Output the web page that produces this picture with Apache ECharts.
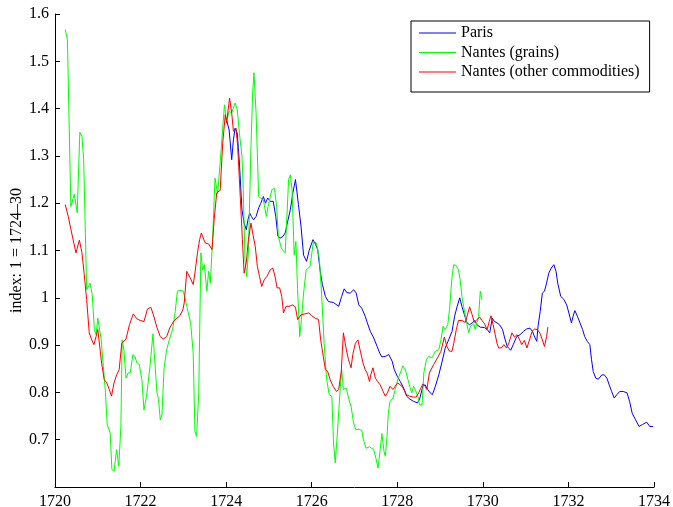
<!DOCTYPE html>
<html>
<head>
<meta charset="utf-8">
<script src="https://cdn.jsdelivr.net/npm/echarts@6/dist/echarts.min.js"></script>
<style>
html,body{margin:0;padding:0;background:#fff;}
#chart{width:673px;height:507px;}
</style>
</head>
<body>
<div id="chart"></div>
<script>
// ---- Data ----
const seriesNames = ['Paris', 'Nantes (grains)', 'Nantes (other commodities)'];
const xTicks = [1720, 1722, 1724, 1726, 1728, 1730, 1732, 1734];
const yTicks = [0.7, 0.8, 0.9, 1, 1.1, 1.2, 1.3, 1.4, 1.5, 1.6];

const parisYears = [1724.00,1724.07,1724.13,1724.17,1724.21,1724.26,1724.31,1724.37,1724.42,1724.47,1724.51,1724.55,1724.59,1724.64,1724.70,1724.76,1724.81,1724.87,1724.92,1724.97,1725.03,1725.10,1725.16,1725.21,1725.26,1725.33,1725.38,1725.43,1725.50,1725.56,1725.62,1725.69,1725.75,1725.81,1725.88,1725.94,1726.03,1726.09,1726.14,1726.20,1726.25,1726.32,1726.39,1726.51,1726.63,1726.70,1726.76,1726.82,1726.90,1726.98,1727.04,1727.10,1727.17,1727.25,1727.30,1727.37,1727.45,1727.53,1727.59,1727.64,1727.72,1727.80,1727.88,1727.93,1728.00,1728.07,1728.15,1728.22,1728.29,1728.38,1728.47,1728.52,1728.60,1728.65,1728.71,1728.77,1728.82,1728.89,1728.97,1729.05,1729.12,1729.20,1729.28,1729.34,1729.40,1729.46,1729.51,1729.57,1729.63,1729.69,1729.75,1729.81,1729.86,1729.94,1730.04,1730.10,1730.16,1730.22,1730.27,1730.33,1730.39,1730.46,1730.51,1730.57,1730.65,1730.71,1730.79,1730.87,1730.95,1731.02,1731.10,1731.16,1731.21,1731.26,1731.29,1731.34,1731.39,1731.44,1731.49,1731.54,1731.60,1731.66,1731.71,1731.75,1731.82,1731.89,1731.96,1732.01,1732.07,1732.11,1732.15,1732.21,1732.27,1732.33,1732.38,1732.44,1732.50,1732.54,1732.58,1732.64,1732.70,1732.78,1732.84,1732.90,1732.96,1733.01,1733.07,1733.13,1733.20,1733.28,1733.37,1733.43,1733.49,1733.57,1733.65,1733.73,1733.83,1733.90,1733.98];
const parisValues = [1.380,1.355,1.292,1.334,1.359,1.348,1.285,1.186,1.158,1.144,1.165,1.179,1.172,1.165,1.172,1.190,1.200,1.214,1.200,1.211,1.204,1.204,1.172,1.130,1.126,1.130,1.137,1.158,1.186,1.222,1.250,1.197,1.151,1.090,1.077,1.100,1.123,1.113,1.102,1.055,1.028,1.003,0.992,0.990,0.982,1.003,1.019,1.011,1.010,1.017,1.010,0.985,0.978,0.961,0.947,0.929,0.915,0.897,0.883,0.875,0.876,0.880,0.866,0.848,0.834,0.823,0.809,0.792,0.786,0.781,0.778,0.785,0.814,0.816,0.806,0.799,0.795,0.813,0.837,0.866,0.894,0.911,0.929,0.961,0.982,1.000,0.982,0.964,0.947,0.943,0.947,0.952,0.943,0.938,0.937,0.933,0.926,0.957,0.950,0.947,0.943,0.933,0.915,0.897,0.889,0.901,0.918,0.922,0.929,0.934,0.936,0.929,0.917,0.908,0.940,0.971,1.010,1.014,1.031,1.052,1.063,1.070,1.056,1.031,1.003,0.997,0.985,0.968,0.947,0.961,0.973,0.961,0.947,0.933,0.918,0.908,0.901,0.869,0.844,0.830,0.828,0.837,0.837,0.830,0.814,0.802,0.788,0.795,0.802,0.802,0.799,0.781,0.756,0.742,0.728,0.732,0.737,0.728,0.728];

const grainsYears = [1720.24,1720.29,1720.37,1720.45,1720.52,1720.58,1720.63,1720.67,1720.74,1720.82,1720.87,1720.92,1720.96,1721.00,1721.04,1721.08,1721.13,1721.18,1721.22,1721.29,1721.33,1721.38,1721.44,1721.49,1721.54,1721.57,1721.61,1721.66,1721.71,1721.76,1721.82,1721.87,1721.91,1721.97,1722.03,1722.08,1722.14,1722.22,1722.29,1722.32,1722.38,1722.42,1722.46,1722.50,1722.55,1722.61,1722.67,1722.75,1722.81,1722.86,1722.92,1723.00,1723.08,1723.17,1723.23,1723.27,1723.31,1723.36,1723.41,1723.45,1723.49,1723.55,1723.59,1723.63,1723.68,1723.74,1723.80,1723.86,1723.96,1724.01,1724.07,1724.13,1724.21,1724.26,1724.31,1724.37,1724.40,1724.44,1724.48,1724.52,1724.58,1724.62,1724.65,1724.70,1724.76,1724.81,1724.87,1724.94,1724.98,1725.07,1725.13,1725.18,1725.22,1725.29,1725.33,1725.38,1725.46,1725.50,1725.54,1725.59,1725.63,1725.67,1725.72,1725.76,1725.81,1725.87,1725.96,1726.04,1726.11,1726.18,1726.23,1726.29,1726.35,1726.41,1726.47,1726.51,1726.55,1726.60,1726.67,1726.70,1726.74,1726.81,1726.86,1726.92,1726.98,1727.03,1727.10,1727.17,1727.21,1727.27,1727.35,1727.45,1727.50,1727.55,1727.60,1727.64,1727.69,1727.72,1727.76,1727.79,1727.83,1727.90,1727.95,1728.01,1728.07,1728.13,1728.19,1728.24,1728.30,1728.34,1728.38,1728.42,1728.48,1728.52,1728.58,1728.62,1728.68,1728.73,1728.81,1728.89,1728.97,1729.02,1729.07,1729.12,1729.18,1729.22,1729.28,1729.32,1729.38,1729.43,1729.47,1729.51,1729.55,1729.59,1729.63,1729.67,1729.71,1729.75,1729.79,1729.82,1729.86,1729.90,1729.94,1729.98];
const grainsValues = [1.567,1.546,1.193,1.219,1.180,1.350,1.341,1.292,1.017,1.031,1.007,0.933,0.922,0.957,0.958,0.911,0.855,0.799,0.732,0.714,0.637,0.633,0.679,0.644,0.728,0.911,0.890,0.830,0.841,0.842,0.880,0.876,0.863,0.859,0.827,0.763,0.792,0.855,0.924,0.883,0.802,0.785,0.742,0.753,0.852,0.890,0.911,0.933,0.971,1.014,1.016,1.014,0.982,0.947,0.883,0.718,0.707,0.799,1.095,1.059,1.070,1.014,1.056,1.031,1.116,1.253,1.220,1.285,1.408,1.373,1.394,1.391,1.412,1.398,1.348,1.299,1.229,1.081,1.045,1.095,1.320,1.433,1.476,1.391,1.214,1.211,1.207,1.172,1.193,1.229,1.231,1.193,1.130,1.105,1.100,1.095,1.250,1.260,1.229,1.091,1.119,1.017,0.918,0.954,1.010,1.059,1.066,1.119,1.116,1.081,1.010,0.904,0.827,0.795,0.792,0.693,0.651,0.714,0.813,0.848,0.806,0.809,0.788,0.770,0.735,0.721,0.722,0.720,0.700,0.682,0.685,0.679,0.661,0.640,0.679,0.713,0.675,0.665,0.707,0.756,0.781,0.788,0.806,0.827,0.841,0.856,0.848,0.830,0.810,0.799,0.813,0.806,0.792,0.774,0.774,0.841,0.869,0.876,0.873,0.887,0.890,0.911,0.940,0.933,0.943,0.975,1.045,1.070,1.068,1.059,1.038,1.003,0.982,0.961,0.943,0.926,0.940,0.936,0.945,0.933,0.947,0.960,1.014,0.996];

const otherYears = [1720.24,1720.31,1720.39,1720.49,1720.57,1720.63,1720.68,1720.74,1720.80,1720.86,1720.91,1720.96,1721.00,1721.09,1721.15,1721.21,1721.27,1721.32,1721.38,1721.44,1721.50,1721.56,1721.66,1721.74,1721.83,1721.91,1721.99,1722.08,1722.16,1722.24,1722.30,1722.38,1722.46,1722.53,1722.61,1722.68,1722.77,1722.85,1722.92,1722.99,1723.02,1723.08,1723.16,1723.23,1723.27,1723.33,1723.38,1723.42,1723.51,1723.59,1723.67,1723.72,1723.78,1723.86,1723.92,1723.98,1724.01,1724.08,1724.13,1724.17,1724.23,1724.27,1724.33,1724.38,1724.42,1724.47,1724.52,1724.58,1724.62,1724.68,1724.73,1724.78,1724.83,1724.89,1724.95,1725.03,1725.09,1725.15,1725.19,1725.25,1725.30,1725.34,1725.40,1725.47,1725.56,1725.62,1725.67,1725.75,1725.84,1725.93,1726.00,1726.08,1726.16,1726.21,1726.27,1726.32,1726.37,1726.43,1726.50,1726.58,1726.63,1726.69,1726.74,1726.81,1726.86,1726.92,1726.96,1727.02,1727.08,1727.13,1727.20,1727.25,1727.30,1727.35,1727.38,1727.43,1727.49,1727.54,1727.60,1727.67,1727.72,1727.77,1727.83,1727.90,1727.95,1728.01,1728.05,1728.11,1728.16,1728.21,1728.29,1728.38,1728.44,1728.50,1728.55,1728.60,1728.65,1728.69,1728.75,1728.85,1728.94,1729.02,1729.10,1729.16,1729.22,1729.28,1729.32,1729.38,1729.43,1729.51,1729.59,1729.64,1729.69,1729.75,1729.80,1729.86,1729.93,1729.98,1730.04,1730.10,1730.15,1730.19,1730.24,1730.29,1730.33,1730.37,1730.43,1730.49,1730.55,1730.60,1730.68,1730.74,1730.80,1730.86,1730.91,1730.97,1731.03,1731.09,1731.15,1731.21,1731.27,1731.33,1731.39,1731.44,1731.49,1731.52];
const otherValues = [1.197,1.172,1.137,1.095,1.122,1.095,1.052,0.996,0.926,0.911,0.901,0.918,0.933,0.862,0.827,0.820,0.806,0.792,0.820,0.837,0.848,0.904,0.913,0.943,0.966,0.956,0.952,0.950,0.976,0.980,0.964,0.938,0.918,0.913,0.918,0.936,0.950,0.957,0.962,0.975,0.989,1.056,1.042,1.028,1.052,1.095,1.123,1.137,1.116,1.114,1.102,1.165,1.222,1.227,1.327,1.387,1.370,1.422,1.391,1.352,1.359,1.320,1.214,1.123,1.052,1.074,1.123,1.158,1.137,1.109,1.066,1.045,1.024,1.038,1.045,1.059,1.063,1.042,1.021,1.021,1.003,0.968,0.982,0.982,0.985,0.980,0.954,0.964,0.966,0.968,0.962,0.957,0.954,0.911,0.876,0.848,0.845,0.827,0.813,0.802,0.806,0.844,0.926,0.890,0.869,0.852,0.880,0.904,0.911,0.890,0.862,0.848,0.840,0.823,0.837,0.852,0.830,0.823,0.816,0.802,0.792,0.799,0.813,0.806,0.813,0.820,0.823,0.813,0.805,0.795,0.792,0.790,0.790,0.799,0.809,0.818,0.813,0.806,0.841,0.859,0.873,0.887,0.917,0.897,0.887,0.887,0.904,0.933,0.952,0.952,0.948,0.964,0.981,0.964,0.948,0.954,0.959,0.952,0.945,0.933,0.950,0.962,0.943,0.922,0.904,0.894,0.894,0.901,0.894,0.902,0.926,0.917,0.922,0.911,0.901,0.910,0.894,0.911,0.929,0.934,0.933,0.926,0.911,0.897,0.918,0.938];

// ---- Build chart ----
const FONT = '"Liberation Serif", "DejaVu Serif", serif';
function pairs(xs, ys) { return xs.map((x, i) => [x, ys[i]]); }
const colors = ['#0000ff', '#00ff00', '#ff0000'];
const seriesData = [pairs(parisYears, parisValues), pairs(grainsYears, grainsValues), pairs(otherYears, otherValues)];

const chart = echarts.init(document.getElementById('chart'), null, { renderer: 'canvas' });
chart.setOption({
  animation: false,
  backgroundColor: '#fff',
  grid: { left: 55, right: 19, top: 14, bottom: 20, containLabel: false, outerBoundsMode: 'none' },
  xAxis: {
    type: 'value', min: xTicks[0], max: xTicks[xTicks.length - 1], interval: 2,
    axisLine: { show: true, lineStyle: { color: '#000', width: 1 } },
    axisTick: { show: true, inside: true, length: 5, lineStyle: { color: '#000' } },
    axisLabel: { color: '#000', fontFamily: FONT, fontSize: 16, margin: 7, formatter: v => String(v) },
    splitLine: { show: false }
  },
  yAxis: {
    type: 'value', min: 0.6, max: yTicks[yTicks.length - 1], interval: 0.1,
    name: 'index: 1 = 1724\u201330', nameLocation: 'middle', nameGap: 30, nameRotate: 90,
    nameMoveOverlap: false,
    nameTextStyle: { color: '#000', fontFamily: FONT, fontSize: 16 },
    axisLine: { show: true, lineStyle: { color: '#000', width: 1 } },
    axisTick: { show: true, inside: true, length: 5, lineStyle: { color: '#000' } },
    axisLabel: {
      color: '#000', fontFamily: FONT, fontSize: 16, margin: 6,
      formatter: v => {
        const r = Math.round(v * 10) / 10;
        return yTicks.indexOf(r) >= 0 ? String(r) : '';
      }
    },
    splitLine: { show: false }
  },
  legend: {
    orient: 'vertical', left: 411, top: 21,
    backgroundColor: '#fff', borderColor: '#000', borderWidth: 1,
    padding: [4, 10, 12, 8], itemWidth: 37, itemHeight: 1, itemGap: 3.5,
    icon: 'rect',
    textStyle: { color: '#000', fontFamily: FONT, fontSize: 16, lineHeight: 16 },
    data: seriesNames
  },
  series: seriesNames.map((name, i) => ({
    name: name, type: 'line', data: seriesData[i],
    symbol: 'none', showSymbol: false,
    lineStyle: { color: colors[i], width: 1 },
    itemStyle: { color: colors[i] },
    z: 2 + i
  }))
});
</script>
</body>
</html>
